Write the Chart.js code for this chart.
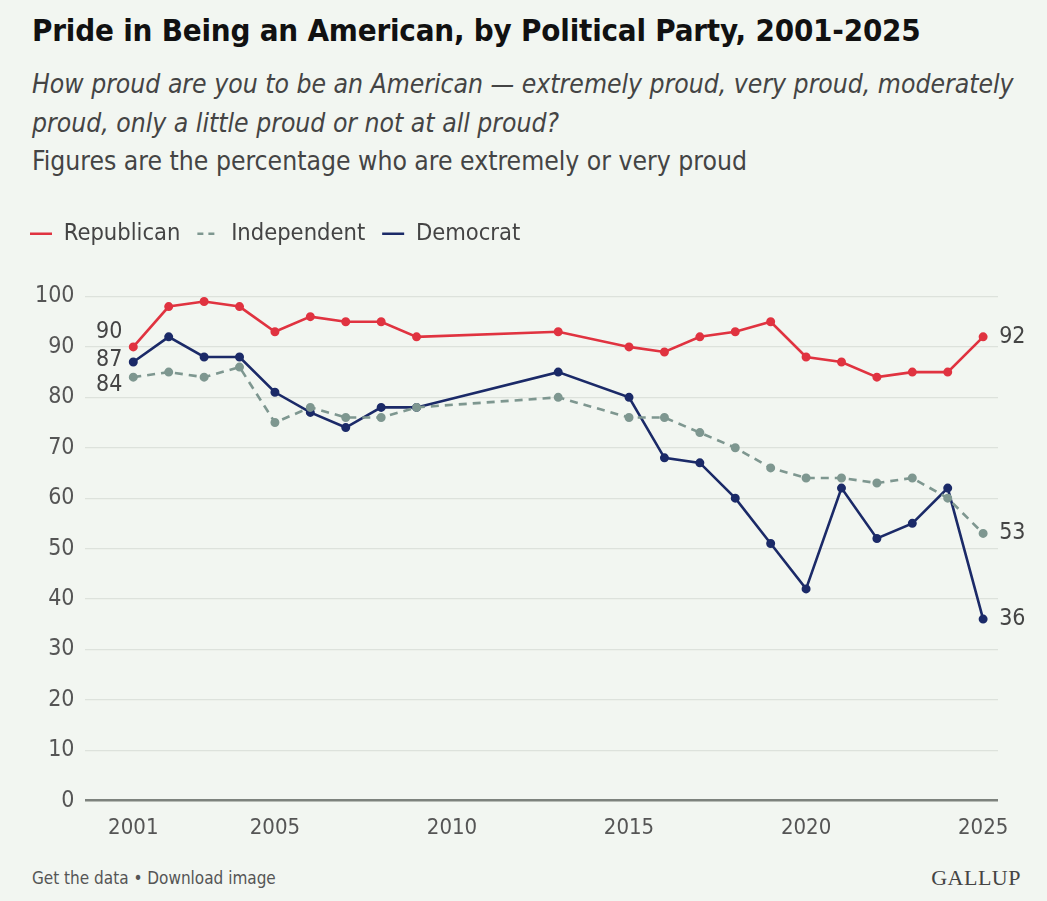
<!DOCTYPE html>
<html>
<head>
<meta charset="utf-8">
<script src="https://cdn.jsdelivr.net/npm/chart.js@4"></script>
<style>
  html, body { margin: 0; padding: 0; background: #f2f6f1; }
  body { width: 1047px; height: 901px; position: relative; overflow: hidden;
         font-family: "DejaVu Sans Condensed", "Liberation Sans", sans-serif; }
  h1 { position: absolute; left: 32px; top: 12px; margin: 0; font-size: 31px; font-weight: bold; color: #111; letter-spacing: -0.2px; }
  .sub { position: absolute; left: 32px; margin: 0; font-size: 26.3px; color: #444; }
  .it { font-style: italic; }
  #wrap { position: absolute; left: 0; top: 205px; width: 1047px; height: 642px; }
  .foot { position: absolute; left: 32px; top: 868px; font-size: 17px; color: #555; }
  .logo { position: absolute; right: 26px; top: 865px; font-family: "Liberation Serif", "DejaVu Serif", serif; font-size: 22px; color: #444; letter-spacing: 0.5px; }
</style>
</head>
<body>
<h1>Pride in Being an American, by Political Party, 2001-2025</h1>
<p class="sub it" style="top:69px">How proud are you to be an American — extremely proud, very proud, moderately</p>
<p class="sub it" style="top:108px">proud, only a little proud or not at all proud?</p>
<p class="sub" style="top:146px">Figures are the percentage who are extremely or very proud</p>
<div id="wrap"><canvas id="c"></canvas></div>
<div class="foot">Get the data • Download image</div>
<div class="logo">GALLUP</div>
<script>
// survey years (2010-2012 not polled)
const years = [2001, 2002, 2003, 2004, 2005, 2006, 2007, 2008, 2009, 2013, 2015, 2016, 2017, 2018, 2019, 2020, 2021, 2022, 2023, 2024, 2025];
const republican = [90, 98, 99, 98, 93, 96, 95, 95, 92, 93, 90, 89, 92, 93, 95, 88, 87, 84, 85, 85, 92];
const independent = [84, 85, 84, 86, 75, 78, 76, 76, 78, 80, 76, 76, 73, 70, 66, 64, 64, 63, 64, 60, 53];
const democrat = [87, 92, 88, 88, 81, 77, 74, 78, 78, 85, 80, 68, 67, 60, 51, 42, 62, 52, 55, 62, 36];
const xTicks = [2001, 2005, 2010, 2015, 2020, 2025];
const yTicks = [0, 10, 20, 30, 40, 50, 60, 70, 80, 90, 100];

const FONT = '"DejaVu Sans Condensed", "Liberation Sans", sans-serif';
const toPts = arr => arr.map((v, i) => ({ x: years[i], y: v }));

// end labels: first and last value of each line
const endLabels = {
  id: 'endLabels',
  afterDatasetsDraw(chart) {
    const { ctx } = chart;
    const leftShift = [-15, 8, -2];   // R, I, D: spread the 2001 labels so they don't collide
    ctx.save();
    ctx.font = '23px ' + FONT;
    ctx.fillStyle = '#444';
    ctx.textBaseline = 'middle';
    chart.data.datasets.forEach((ds, i) => {
      const pts = chart.getDatasetMeta(i).data;
      const first = pts[0], last = pts[pts.length - 1];
      ctx.textAlign = 'right';
      ctx.fillText(ds.data[0].y, first.x - 11, first.y + leftShift[i]);
      ctx.textAlign = 'left';
      ctx.fillText(ds.data[ds.data.length - 1].y, last.x + 16, last.y);
    });
    ctx.restore();
  }
};

// extra gap under the legend, and pull it to the left edge
const legendTweak = {
  id: 'legendTweak',
  beforeInit(chart) {
    const fit = chart.legend.fit;
    chart.legend.fit = function () {
      fit.call(this);
      this.height += 41;
    };
  },
  afterLayout(chart) {
    chart.legend.left = 13;
  }
};

const ctx = document.getElementById('c').getContext('2d');

new Chart(ctx, {
  type: 'line',
  data: {
    datasets: [
      {
        label: 'Republican',
        data: toPts(republican),
        borderColor: '#e03340',
        backgroundColor: '#e03340',
        borderWidth: 2.6,
        pointRadius: 3.2,
      },
      {
        label: 'Independent',
        data: toPts(independent),
        borderColor: '#7e9790',
        backgroundColor: '#7e9790',
        borderWidth: 2.6,
        borderDash: [8, 6],
        pointRadius: 3.2,
      },
      {
        label: 'Democrat',
        data: toPts(democrat),
        borderColor: '#1b2a68',
        backgroundColor: '#1b2a68',
        borderWidth: 2.6,
        pointRadius: 3.2,
      },
    ],
  },
  options: {
    responsive: true,
    maintainAspectRatio: false,
    animation: false,
    layout: { padding: { left: 24, right: 49, top: 0, bottom: 0 } },
    plugins: {
      legend: {
        position: 'top',
        align: 'start',
        labels: {
          usePointStyle: true,
          pointStyle: 'line',
          pointStyleWidth: 22,
          color: '#444',
          font: { size: 23.5, family: FONT },
          padding: 17,
          generateLabels: chart => chart.data.datasets.map((ds, i) => ({
            text: ds.label,
            datasetIndex: i,
            strokeStyle: ds.borderColor,
            fillStyle: ds.borderColor,
            lineWidth: 2.6,
            lineDash: ds.borderDash ? [6, 5] : [],
            pointStyle: 'line',
            fontColor: '#444',
          })),
        },
      },
      tooltip: { enabled: false },
    },
    scales: {
      x: {
        type: 'linear',
        min: 1999.65,
        max: 2025.42,
        afterBuildTicks: axis => { axis.ticks = xTicks.map(v => ({ value: v })); },
        grid: { display: false },
        border: { display: false },
        ticks: {
          color: '#555',
          padding: 6,
          font: { size: 22, family: FONT },
          callback: v => String(v),
        },
      },
      y: {
        min: 0,
        max: 100,
        afterBuildTicks: axis => { axis.ticks = yTicks.map(v => ({ value: v })); },
        border: { display: false },
        grid: {
          drawTicks: false,
          color: c => (c.tick && c.tick.value === 0 ? '#7d827d' : '#dde2dc'),
          lineWidth: c => (c.tick && c.tick.value === 0 ? 2.5 : 1.2),
        },
        ticks: {
          color: '#555',
          padding: 11,
          font: { size: 23, family: FONT },
        },
      },
    },
  },
  plugins: [endLabels, legendTweak],
});
</script>
</body>
</html>
